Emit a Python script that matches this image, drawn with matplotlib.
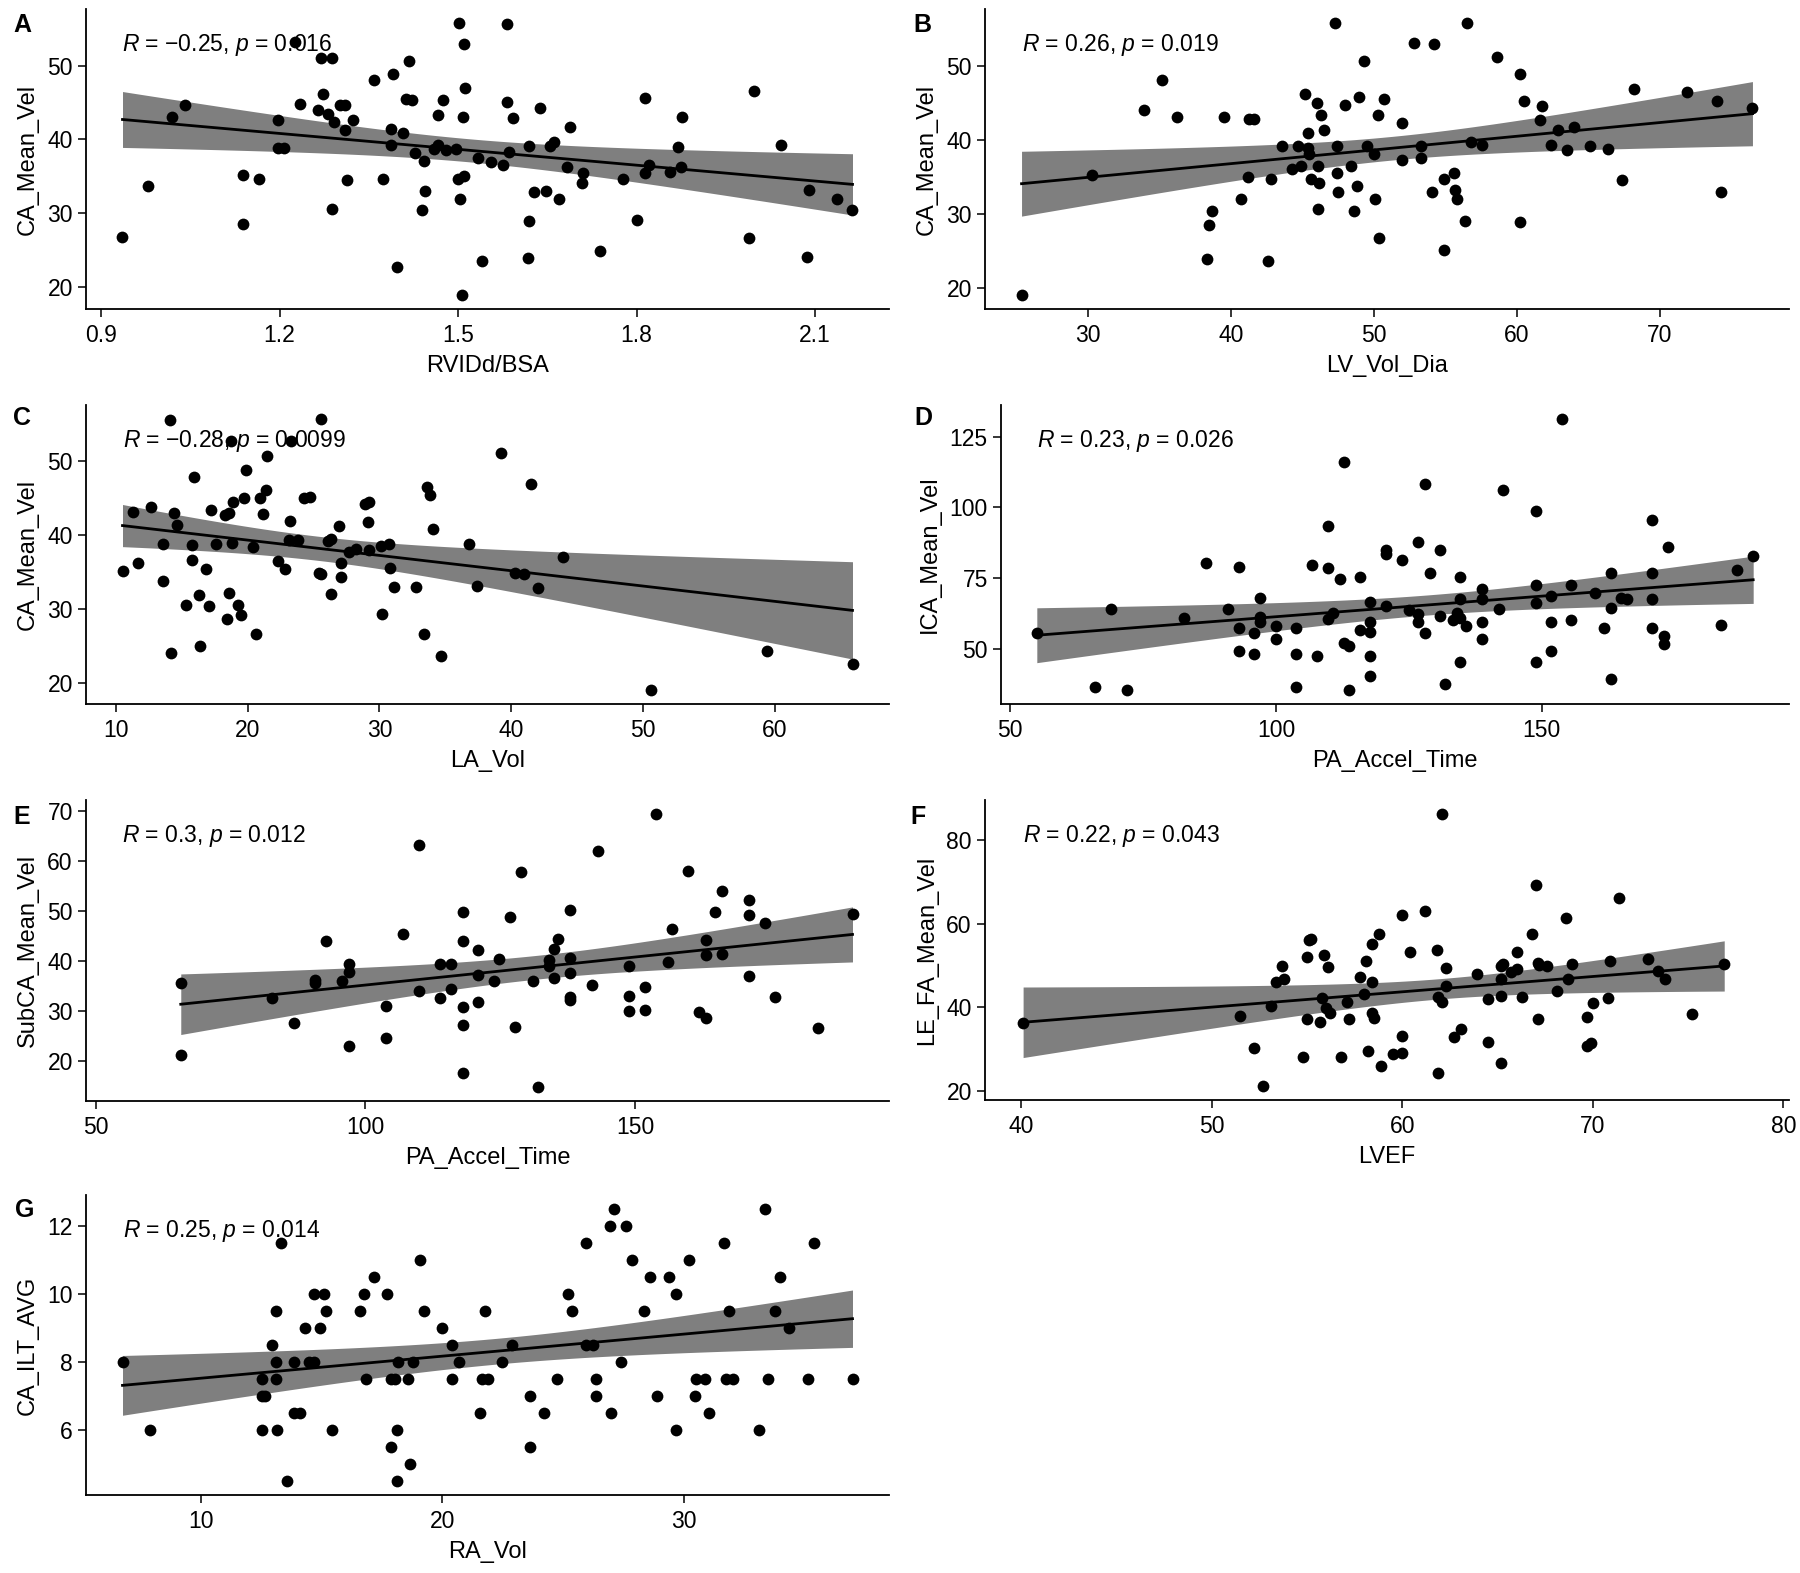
import numpy as np
import matplotlib
matplotlib.use("Agg")
import matplotlib.pyplot as plt
import matplotlib.transforms as mtransforms

plt.rcParams["font.family"] = ["Liberation Sans", "DejaVu Sans"]
plt.rcParams["mathtext.fontset"] = "custom"
plt.rcParams["mathtext.rm"] = "Liberation Sans"
plt.rcParams["mathtext.it"] = "Liberation Sans:italic"

# --- A: RVIDd/BSA vs CA_Mean_Vel
rvidd_bsa = [
    0.936, 0.979, 1.02, 1.041, 1.139, 1.165, 1.138, 1.198, 1.198, 1.208,
    1.226, 1.235, 1.27, 1.288, 1.265, 1.273, 1.282, 1.292, 1.302, 1.31,
    1.31, 1.323, 1.314, 1.288, 1.359, 1.391, 1.418, 1.374, 1.388, 1.388,
    1.407, 1.413, 1.423, 1.428, 1.443, 1.445, 1.439, 1.398, 1.475, 1.466,
    1.46, 1.467, 1.48, 1.497, 1.501, 1.51, 1.512, 1.509, 1.5, 1.51,
    1.504, 1.506, 1.533, 1.54, 1.556, 1.575, 1.582, 1.582, 1.593, 1.585,
    1.619, 1.619, 1.618, 1.628, 1.637, 1.647, 1.654, 1.661, 1.67, 1.689,
    1.683, 1.71, 1.708, 1.739, 1.777, 1.801, 1.815, 1.814, 1.821, 1.857,
    1.869, 1.874, 1.877, 1.989, 1.997, 2.043, 2.087, 2.09, 2.137, 2.163,
]
ca_vel_a = [
    26.8, 33.7, 43.0, 44.7, 35.2, 34.7, 28.5, 42.6, 38.9, 38.9,
    53.2, 44.8, 51.0, 51.0, 44.0, 46.2, 43.4, 42.3, 44.7, 44.7,
    41.3, 42.6, 34.5, 30.6, 48.0, 48.9, 50.6, 34.7, 41.4, 39.3,
    40.9, 45.5, 45.3, 38.1, 37.1, 33.0, 30.4, 22.7, 45.3, 43.3,
    38.7, 39.2, 38.6, 38.7, 55.8, 52.9, 46.9, 43.0, 34.7, 35.0,
    31.9, 18.9, 37.5, 23.5, 36.9, 36.5, 55.6, 45.0, 42.9, 38.3,
    39.1, 29.0, 23.9, 32.9, 44.3, 33.0, 39.1, 39.7, 32.0, 41.7,
    36.3, 35.5, 34.1, 24.9, 34.7, 29.1, 45.6, 35.4, 36.5, 35.6,
    39.0, 36.3, 43.0, 26.7, 46.5, 39.3, 24.1, 33.1, 32.0, 30.4,
]

# --- B: LV_Vol_Dia vs CA_Mean_Vel
lv_vol_dia = [
    25.35, 30.3, 33.9, 35.2, 36.2, 39.5, 41.3, 41.6, 38.3, 38.5,
    38.7, 40.7, 41.2, 42.6, 42.8, 43.6, 44.3, 44.7, 44.9, 45.2,
    45.4, 45.4, 45.5, 45.6, 46.0, 46.3, 46.5, 46.1, 46.2, 46.1,
    47.3, 47.4, 47.4, 47.5, 48.0, 48.4, 48.6, 48.8, 49.0, 49.3,
    49.5, 50.0, 50.1, 50.3, 50.7, 50.4, 52.0, 52.0, 52.8, 53.3,
    53.3, 54.2, 54.1, 54.9, 54.9, 55.6, 55.7, 55.8, 56.5, 56.4,
    56.8, 57.6, 58.6, 60.2, 60.5, 60.2, 61.8, 61.6, 62.4, 62.9,
    63.5, 64.0, 65.1, 66.4, 67.4, 68.2, 71.9, 74.0, 74.3, 76.5,
]
ca_vel_b = [
    19.0, 35.2, 44.0, 48.0, 43.0, 43.0, 42.8, 42.8, 23.9, 28.5,
    30.4, 32.0, 35.0, 23.6, 34.7, 39.1, 36.1, 39.1, 36.4, 46.2,
    40.9, 38.9, 38.1, 34.7, 45.0, 43.3, 41.3, 36.5, 34.1, 30.6,
    55.7, 39.1, 35.5, 32.9, 44.7, 36.5, 30.4, 33.7, 45.7, 50.6,
    39.1, 38.1, 32.0, 43.3, 45.5, 26.8, 42.2, 37.2, 53.0, 39.1,
    37.5, 52.9, 33.0, 34.7, 25.1, 35.5, 33.2, 32.0, 55.8, 29.1,
    39.7, 39.3, 51.1, 48.9, 45.2, 28.9, 44.5, 42.7, 39.3, 41.3,
    38.6, 41.7, 39.1, 38.7, 34.5, 46.9, 46.5, 45.2, 33.0, 44.3,
]

# --- C: LA_Vol vs CA_Mean_Vel
la_vol = [
    10.5, 11.3, 11.7, 12.7, 14.1, 13.6, 13.6, 14.2, 14.4, 14.6,
    15.3, 15.9, 15.8, 15.8, 16.3, 16.4, 16.8, 17.1, 17.2, 17.6,
    18.3, 18.6, 18.6, 18.4, 18.7, 18.8, 18.9, 19.3, 19.5, 19.7,
    19.9, 20.4, 20.6, 20.9, 21.2, 21.4, 21.5, 22.3, 22.8, 23.2,
    23.1, 23.3, 23.8, 24.3, 24.7, 25.4, 25.6, 25.6, 26.1, 26.3,
    26.3, 26.9, 27.1, 27.1, 27.7, 28.2, 28.9, 29.2, 29.1, 29.2,
    30.1, 30.7, 30.2, 30.8, 31.1, 32.8, 33.6, 33.8, 34.1, 33.4,
    34.7, 36.8, 37.4, 39.2, 40.3, 41.0, 41.5, 42.0, 43.9, 50.6,
    59.4, 65.9,
]
ca_vel_c = [
    35.1, 43.1, 36.2, 43.8, 55.6, 38.8, 33.8, 24.0, 43.0, 41.4,
    30.6, 47.9, 38.7, 36.6, 31.9, 25.0, 35.5, 30.4, 43.4, 38.8,
    42.7, 43.0, 32.2, 28.6, 52.8, 39.0, 44.5, 30.6, 29.2, 45.1,
    48.9, 38.4, 26.7, 45.1, 42.9, 46.1, 50.7, 36.5, 35.4, 42.0,
    39.4, 52.8, 39.3, 45.1, 45.2, 34.9, 34.8, 55.8, 39.2, 39.5,
    32.1, 41.2, 36.3, 34.3, 37.8, 38.2, 44.2, 44.5, 41.8, 38.0,
    38.6, 38.8, 29.3, 35.6, 33.0, 33.0, 46.5, 45.5, 40.8, 26.7,
    23.7, 38.8, 33.1, 51.1, 34.9, 34.8, 47.0, 32.8, 37.1, 19.0,
    24.4, 22.6,
]

# --- D: PA_Accel_Time vs ICA_Mean_Vel
pa_accel_d = [
    55.0, 65.9, 69.0, 72.0, 82.7, 86.9, 91.0, 93.1, 93.1, 93.1,
    95.8, 95.8, 97.0, 97.0, 97.0, 100.0, 100.0, 103.8, 103.8, 103.8,
    106.8, 107.7, 109.8, 109.8, 109.8, 110.7, 112.0, 112.8, 112.8, 113.7,
    113.7, 115.9, 115.8, 117.7, 117.7, 117.7, 117.7, 117.7, 120.7, 120.7,
    120.7, 123.8, 125.0, 126.7, 126.7, 126.7, 128.0, 128.0, 128.9, 130.9,
    130.9, 131.8, 133.4, 134.0, 134.7, 134.7, 134.7, 135.8, 134.7, 138.8,
    138.8, 138.8, 138.8, 141.9, 142.7, 148.9, 148.9, 148.9, 148.9, 151.8,
    151.8, 151.8, 153.9, 155.6, 155.6, 160.0, 161.7, 163.0, 163.0, 163.0,
    164.9, 166.1, 170.7, 170.7, 170.7, 170.7, 173.8, 173.0, 173.0, 183.8,
    186.7, 189.8,
]
ica_vel = [
    55.6, 36.5, 64.1, 35.4, 60.8, 80.5, 64.1, 79.1, 57.6, 49.4,
    55.6, 48.2, 67.9, 61.5, 59.7, 58.2, 53.7, 57.3, 48.2, 36.5,
    79.6, 47.6, 93.4, 78.7, 60.5, 62.9, 74.6, 116.2, 52.3, 51.2,
    35.4, 75.5, 56.8, 66.6, 59.6, 55.9, 47.6, 40.6, 65.2, 84.9,
    83.5, 81.6, 63.8, 87.7, 62.3, 59.4, 108.2, 55.6, 77.0, 84.9,
    61.7, 37.7, 60.3, 62.9, 75.5, 67.8, 61.0, 58.2, 45.5, 71.3,
    67.6, 59.4, 53.5, 64.1, 106.2, 98.9, 72.6, 66.2, 45.5, 68.8,
    59.6, 49.4, 131.4, 72.6, 60.3, 69.9, 57.6, 76.7, 64.6, 39.4,
    68.2, 67.6, 95.7, 77.0, 67.6, 57.3, 86.0, 54.5, 51.8, 58.4,
    78.1, 82.8,
]

# --- E: PA_Accel_Time vs SubCA_Mean_Vel
pa_accel_e = [
    65.8, 65.8, 82.8, 86.8, 90.7, 90.7, 92.8, 95.7, 96.9, 96.9,
    96.9, 103.8, 103.8, 107.0, 110.0, 110.0, 113.8, 113.8, 115.9, 115.9,
    118.1, 118.1, 118.1, 118.1, 118.1, 120.9, 120.9, 120.9, 123.9, 124.8,
    126.8, 127.8, 128.9, 131.1, 132.1, 134.0, 134.0, 134.9, 135.7, 134.9,
    137.9, 137.9, 137.9, 137.9, 137.9, 142.1, 143.1, 148.8, 148.8, 148.8,
    151.8, 151.8, 153.9, 156.1, 156.9, 159.9, 161.8, 163.1, 163.1, 163.1,
    164.9, 166.1, 166.1, 171.1, 171.1, 171.1, 174.0, 175.9, 183.9, 190.3,
]
subca_vel = [
    35.6, 21.2, 32.7, 27.6, 36.2, 35.6, 44.1, 36.0, 39.4, 37.8,
    23.1, 31.1, 24.6, 45.5, 63.3, 34.1, 39.4, 32.7, 39.4, 34.4,
    49.9, 44.1, 30.8, 27.3, 17.7, 42.2, 37.2, 31.9, 36.0, 40.5,
    48.9, 26.8, 57.9, 36.0, 14.8, 40.2, 39.0, 42.5, 44.5, 36.7,
    50.2, 40.7, 37.7, 32.8, 32.3, 35.3, 62.1, 39.0, 33.1, 30.1,
    34.8, 30.3, 69.5, 39.9, 46.4, 58.1, 29.9, 28.6, 44.2, 41.2,
    49.9, 54.0, 41.5, 52.2, 49.2, 37.0, 47.7, 32.8, 26.6, 49.4,
]

# --- F: LVEF vs LE_FA_Mean_Vel
lvef = [
    40.1, 51.5, 52.2, 52.7, 53.1, 53.4, 53.7, 53.8, 54.8, 55.0,
    55.0, 55.1, 55.2, 55.9, 56.1, 55.8, 56.0, 56.2, 55.7, 56.8,
    57.1, 57.2, 57.8, 58.0, 58.1, 58.4, 58.8, 58.4, 58.4, 58.5,
    58.2, 58.9, 59.5, 60.0, 60.0, 60.0, 60.4, 61.2, 61.8, 61.9,
    62.1, 61.9, 62.1, 62.3, 62.3, 62.7, 63.1, 63.9, 64.5, 64.5,
    65.2, 65.2, 65.2, 65.2, 65.3, 65.7, 66.0, 66.0, 66.3, 66.8,
    67.0, 67.1, 67.1, 67.2, 67.6, 68.1, 68.6, 68.7, 68.9, 69.7,
    69.7, 69.9, 70.0, 70.8, 70.9, 71.4, 72.9, 73.4, 73.8, 75.2,
    76.9,
]
le_fa_vel = [
    36.2, 38.0, 30.4, 21.1, 40.4, 46.1, 49.9, 46.9, 28.2, 52.0,
    37.3, 56.1, 56.5, 52.5, 49.6, 42.3, 39.8, 38.6, 36.5, 28.2,
    41.3, 37.3, 47.3, 43.2, 51.1, 55.3, 57.5, 46.0, 38.6, 37.4,
    29.6, 26.0, 28.8, 62.2, 33.2, 29.0, 53.3, 63.1, 53.7, 42.5,
    41.4, 24.2, 86.4, 49.5, 45.1, 33.0, 34.8, 47.9, 42.0, 31.8,
    42.7, 26.7, 46.7, 49.9, 50.5, 48.4, 49.2, 53.3, 42.5, 57.6,
    69.2, 50.7, 37.3, 50.1, 49.9, 43.9, 61.4, 46.7, 50.3, 37.6,
    30.8, 31.6, 41.0, 42.2, 51.1, 66.1, 51.5, 48.7, 46.7, 38.5,
    50.3,
]

# --- G: RA_Vol vs CA_ILT_AVG
ra_vol = [
    6.76, 7.9, 12.95, 13.1, 13.1, 13.1, 12.55, 12.55, 12.67, 12.55,
    13.14, 13.33, 13.57, 13.86, 13.86, 14.1, 14.33, 14.5, 14.69, 14.69,
    14.95, 15.12, 15.21, 15.45, 16.6, 16.76, 16.86, 17.19, 17.71, 17.9,
    18.05, 17.9, 18.12, 18.14, 18.19, 18.57, 18.69, 18.81, 19.1, 19.26,
    19.98, 20.43, 20.43, 20.71, 21.55, 21.67, 21.88, 21.79, 22.48, 22.88,
    23.62, 23.62, 24.21, 24.76, 25.21, 25.36, 25.95, 25.95, 26.24, 26.36,
    26.36, 26.95, 27.14, 27.0, 27.43, 27.62, 27.86, 28.38, 28.62, 28.9,
    29.38, 29.69, 29.69, 30.24, 30.48, 30.52, 30.88, 31.05, 31.67, 31.76,
    31.9, 32.05, 33.14, 33.38, 33.5, 33.79, 33.98, 34.38, 35.17, 35.4,
    37.0,
]
ca_ilt_avg = [
    8.0, 6.0, 8.5, 9.5, 8.0, 7.5, 7.5, 7.0, 7.0, 6.0,
    6.0, 11.5, 4.5, 8.0, 6.5, 6.5, 9.0, 8.0, 8.0, 10.0,
    9.0, 10.0, 9.5, 6.0, 9.5, 10.0, 7.5, 10.5, 10.0, 7.5,
    7.5, 5.5, 6.0, 4.5, 8.0, 7.5, 5.0, 8.0, 11.0, 9.5,
    9.0, 7.5, 8.5, 8.0, 6.5, 7.5, 7.5, 9.5, 8.0, 8.5,
    5.5, 7.0, 6.5, 7.5, 10.0, 9.5, 11.5, 8.5, 8.5, 7.5,
    7.0, 12.0, 12.5, 6.5, 8.0, 12.0, 11.0, 9.5, 10.5, 7.0,
    10.5, 10.0, 6.0, 11.0, 7.0, 7.5, 7.5, 6.5, 11.5, 7.5,
    9.5, 7.5, 6.0, 12.5, 7.5, 9.5, 10.5, 9.0, 7.5, 11.5,
    7.5,
]

FIG_W, FIG_H = 1800, 1573
T_95 = 1.99  # t quantile, ~85 df


def fit_band(x, y):
    x = np.asarray(x, dtype=float)
    y = np.asarray(y, dtype=float)
    slope, intercept = np.polyfit(x, y, 1)
    grid = np.linspace(x.min(), x.max(), 80)
    fitted = intercept + slope * grid
    resid = y - (intercept + slope * x)
    n = len(x)
    s = np.sqrt(np.sum(resid ** 2) / (n - 2))
    sxx = np.sum((x - x.mean()) ** 2)
    se = s * np.sqrt(1.0 / n + (grid - x.mean()) ** 2 / sxx)
    return grid, fitted, fitted - T_95 * se, fitted + T_95 * se


def draw_panel(fig, box, x, y, xlabel, ylabel, xticks, yticks, note,
               letter, letter_xy, xlim=None, x_extent=None):
    x0, y0, x1, y1 = box
    ax = fig.add_axes([x0 / FIG_W, 1 - y1 / FIG_H,
                       (x1 - x0) / FIG_W, (y1 - y0) / FIG_H])

    grid, fitted, lo, hi = fit_band(x, y)
    ax.fill_between(grid, lo, hi, color="#7f7f7f", linewidth=0, zorder=1)
    ax.plot(grid, fitted, color="black", linewidth=2.0, zorder=2)
    ax.scatter(x, y, s=72, color="black", linewidths=0, zorder=3)

    ax.margins(0.05)
    note_x = min(x)
    if x_extent is not None:
        # x variable has extra rows (missing y) that still set the scale
        lo_x, hi_x = x_extent
        pad = 0.05 * (hi_x - lo_x)
        ax.set_xlim(lo_x - pad, hi_x + pad)
        note_x = lo_x
    if xlim is not None:
        ax.set_xlim(*xlim)

    ax.set_xticks(xticks, labels=[f"{t:g}" for t in xticks])
    ax.set_yticks(yticks, labels=[f"{t:g}" for t in yticks])
    ax.set_xlabel(xlabel, fontsize=17, labelpad=5.5)
    ax.set_ylabel(ylabel, fontsize=17, labelpad=6)
    ax.tick_params(axis="both", labelsize=16.5, length=5.5, width=1.1,
                   pad=4, color="black", labelcolor="black")
    ax.tick_params(axis="x", pad=5.5)
    for side in ("top", "right"):
        ax.spines[side].set_visible(False)
    for side in ("left", "bottom"):
        ax.spines[side].set_linewidth(1.3)

    trans = mtransforms.blended_transform_factory(ax.transData, ax.transAxes)
    ax.text(note_x, 0.88, note, transform=trans, ha="left", va="center",
            fontsize=16.5, zorder=5)

    fig.text(letter_xy[0] / FIG_W, 1 - letter_xy[1] / FIG_H, letter,
             fontsize=18, fontweight="bold", ha="center", va="center")
    return ax


def main() -> None:
    fig = plt.figure(figsize=(FIG_W / 100, FIG_H / 100), dpi=100)

    draw_panel(fig, (86, 9, 889, 309), rvidd_bsa, ca_vel_a,
               "RVIDd/BSA", "CA_Mean_Vel",
               [0.9, 1.2, 1.5, 1.8, 2.1], [20, 30, 40, 50],
               r"$R$ = −0.25, $p$ = 0.016", "A", (22, 25))
    draw_panel(fig, (985, 9, 1789, 309), lv_vol_dia, ca_vel_b,
               "LV_Vol_Dia", "CA_Mean_Vel",
               [30, 40, 50, 60, 70], [20, 30, 40, 50],
               r"$R$ = 0.26, $p$ = 0.019", "B", (922, 25))
    draw_panel(fig, (86, 405, 889, 704), la_vol, ca_vel_c,
               "LA_Vol", "CA_Mean_Vel",
               [10, 20, 30, 40, 50, 60], [20, 30, 40, 50],
               r"$R$ = −0.28, $p$ = 0.0099", "C", (22, 418))
    draw_panel(fig, (1001, 405, 1789, 704), pa_accel_d, ica_vel,
               "PA_Accel_Time", "ICA_Mean_Vel",
               [50, 100, 150], [50, 75, 100, 125],
               r"$R$ = 0.23, $p$ = 0.026", "D", (923, 418))
    pa_all = pa_accel_d + pa_accel_e
    draw_panel(fig, (86, 800, 889, 1101), pa_accel_e, subca_vel,
               "PA_Accel_Time", "SubCA_Mean_Vel",
               [50, 100, 150], [20, 30, 40, 50, 60, 70],
               r"$R$ = 0.3, $p$ = 0.012", "E", (22, 817),
               x_extent=(min(pa_all), max(pa_all)))
    draw_panel(fig, (985, 800, 1789, 1100), lvef, le_fa_vel,
               "LVEF", "LE_FA_Mean_Vel",
               [40, 50, 60, 70, 80], [20, 40, 60, 80],
               r"$R$ = 0.22, $p$ = 0.043", "F", (918, 817), xlim=(38.1, 80.3))
    draw_panel(fig, (86, 1195, 889, 1495), ra_vol, ca_ilt_avg,
               "RA_Vol", "CA_ILT_AVG",
               [10, 20, 30], [6, 8, 10, 12],
               r"$R$ = 0.25, $p$ = 0.014", "G", (25, 1210))

    fig.savefig("out.png", dpi=100)


if __name__ == "__main__":
    main()
